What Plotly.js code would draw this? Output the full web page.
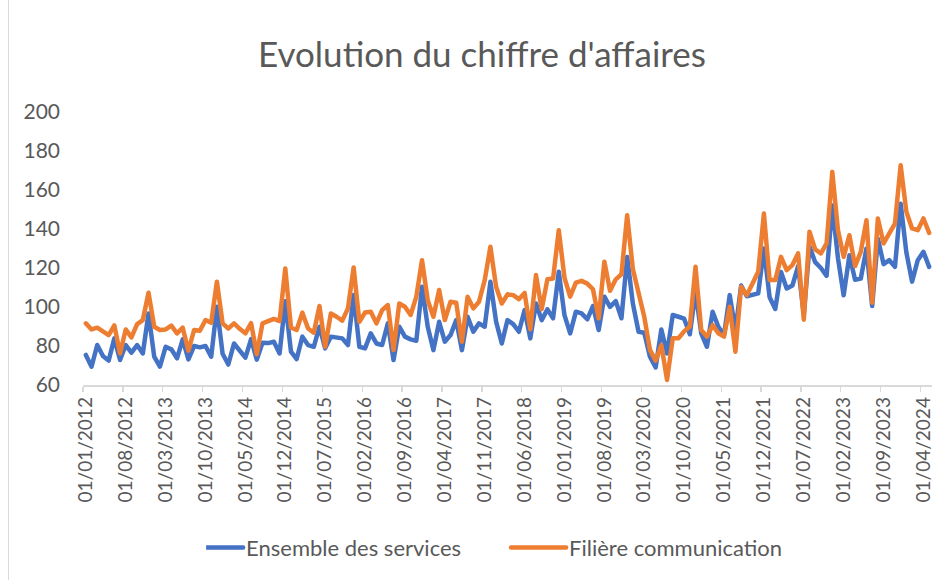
<!DOCTYPE html>
<html>
<head>
<meta charset="utf-8">
<script src="https://cdn.plot.ly/plotly-3.0.1.min.js"></script>
<style>
html, body { margin: 0; padding: 0; background: #ffffff; }
#chart { width: 947px; height: 580px; }
.js-line { stroke-linejoin: round; stroke-linecap: round; }
</style>
</head>
<body>
<div id="chart"></div>
<script>
// Monthly categories: 01/01/2012 ... 01/05/2024
const months = [];
for (let y = 2012; y <= 2024; y++) {
  for (let m = 1; m <= 12; m++) {
    if (y === 2024 && m > 5) break;
    months.push('01/' + String(m).padStart(2, '0') + '/' + y);
  }
}

const seriesNames = ['Ensemble des services', 'Filière communication'];

const ensembleServices = [
  75.4, 69.4, 80.5, 74.9, 72.5, 83.9, 72.8, 80.5, 76.6, 80.5, 76.2, 96.7,
  74.5, 69.4, 79.6, 78.3, 73.7, 83.4, 73.1, 80.0, 79.3, 80.0, 74.5, 100.1,
  76.0, 70.5, 81.3, 77.9, 74.0, 83.5, 73.0, 81.7, 81.5, 82.2, 76.2, 103.0,
  77.1, 73.3, 84.8, 80.5, 79.6, 89.9, 78.8, 84.8, 84.4, 83.9, 80.5, 106.1,
  79.6, 78.8, 86.5, 81.3, 80.5, 91.6, 72.8, 89.9, 84.8, 83.4, 82.7, 110.4,
  89.9, 77.9, 92.4, 82.2, 85.6, 93.3, 77.9, 95.0, 87.3, 91.6, 89.9, 112.9,
  92.5, 81.3, 93.3, 91.2, 87.3, 98.4, 83.9, 101.8, 93.3, 98.8, 94.2, 118.1,
  95.8, 86.5, 97.6, 96.7, 93.7, 100.5, 88.2, 105.3, 100.1, 103.0, 94.2, 125.7,
  101.8, 87.3, 86.8, 74.5, 69.0, 88.5, 76.2, 95.9, 95.0, 94.0, 86.0, 108.0,
  86.5, 79.6, 97.6, 89.9, 85.6, 106.1, 88.0, 111.0, 105.5, 106.0, 107.0, 130.0,
  105.0, 99.0, 118.0, 109.5, 111.0, 121.0, 96.0, 131.0, 123.0, 120.0, 116.0, 152.0,
  125.0, 106.0, 126.5, 114.0, 114.6, 130.0, 100.5, 135.0, 122.0, 124.0, 120.6, 153.0,
  128.0, 113.0, 124.0, 128.3, 120.6
];

const filiereCommunication = [
  91.6, 88.5, 89.4, 87.3, 85.6, 90.6, 76.2, 88.5, 84.4, 91.2, 93.3, 107.3,
  89.9, 88.2, 88.5, 90.4, 86.5, 89.4, 77.6, 88.2, 87.8, 93.3, 91.9, 113.0,
  91.6, 89.0, 91.6, 88.8, 86.5, 91.7, 75.8, 91.6, 93.0, 93.9, 92.8, 119.8,
  89.5, 88.2, 97.1, 89.0, 86.8, 100.5, 79.6, 96.7, 95.0, 93.0, 99.3, 120.3,
  92.4, 97.2, 97.6, 91.6, 98.4, 101.0, 77.9, 101.8, 100.1, 95.9, 105.3, 124.0,
  103.5, 95.0, 108.7, 93.3, 102.7, 102.2, 82.2, 105.3, 99.3, 102.7, 113.8, 130.9,
  110.4, 101.8, 106.5, 106.1, 104.0, 107.2, 88.6, 116.4, 98.9, 114.2, 114.6, 139.4,
  115.0, 105.3, 112.5, 113.4, 112.0, 109.1, 94.2, 123.2, 108.3, 114.2, 116.8, 147.1,
  119.5, 108.0, 95.0, 78.0, 72.5, 80.5, 62.6, 84.0, 84.0, 87.5, 90.0, 120.6,
  88.2, 84.8, 90.7, 86.5, 84.8, 100.1, 77.1, 110.4, 106.1, 112.1, 118.1, 147.9,
  113.8, 113.8, 125.7, 118.9, 121.5, 127.5, 93.5, 138.6, 129.5, 127.5, 132.6, 169.3,
  139.4, 125.7, 136.8, 121.0, 128.3, 144.5, 102.2, 145.4, 132.6, 137.7, 142.8, 172.7,
  148.8, 140.3, 139.4, 145.4, 138.0
];

const traces = [
  {
    type: 'scatter', mode: 'lines', name: seriesNames[0],
    x: months, y: ensembleServices,
    line: { color: '#4472C4', width: 4.5 },
    hoverinfo: 'x+y+name'
  },
  {
    type: 'scatter', mode: 'lines', name: seriesNames[1],
    x: months, y: filiereCommunication,
    line: { color: '#ED7D31', width: 4.5 },
    hoverinfo: 'x+y+name'
  }
];

const layout = {
  width: 947, height: 580,
  margin: { l: 83, r: 15, t: 112, b: 195, pad: 0 },
  paper_bgcolor: '#ffffff', plot_bgcolor: '#ffffff',
  font: { family: 'Lato, "Open Sans", sans-serif', color: '#595959' },
  title: {
    text: "Evolution du chiffre d'affaires",
    font: { size: 35, color: '#595959', family: 'Lato, "Open Sans", sans-serif' },
    x: 0.509, xref: 'container', xanchor: 'center',
    y: 0.905, yref: 'container', yanchor: 'middle'
  },
  xaxis: {
    type: 'category',
    range: [-0.5, 148.5],
    tickmode: 'linear', tick0: 0, dtick: 7,
    tickson: 'boundaries',
    ticks: 'outside', ticklen: 5, tickwidth: 1.3, tickcolor: '#d9d9d9',
    showline: true, linecolor: '#d9d9d9', linewidth: 1.5,
    showgrid: false, zeroline: false,
    tickangle: -90,
    ticklabelstandoff: 3,
    tickfont: { size: 19, color: '#595959' },
    fixedrange: true
  },
  yaxis: {
    range: [60, 200], tick0: 0, dtick: 20,
    showgrid: false, zeroline: false, showline: false, ticks: '',
    tickfont: { size: 21, color: '#595959' },
    ticklabelstandoff: 22,
    fixedrange: true
  },
  showlegend: true,
  legend: {
    orientation: 'h',
    x: 0.145, xanchor: 'left',
    y: -0.596, yanchor: 'middle',
    entrywidth: 278, entrywidthmode: 'pixels',
    font: { size: 22, color: '#595959' },
    bgcolor: 'rgba(0,0,0,0)'
  },
  shapes: [
    {
      type: 'line', xref: 'paper', yref: 'paper',
      x0: -0.0878, x1: -0.0878, y0: -0.714, y1: 1.41,
      line: { color: '#d9d9d9', width: 1 }
    }
  ]
};

function lengthenLegendLines() {
  document.querySelectorAll('#chart .legend .traces .legendlines path.js-line')
    .forEach(function (p) { p.setAttribute('d', 'M-18,0h55'); });
}

Plotly.newPlot('chart', traces, layout, { displayModeBar: false, staticPlot: true })
  .then(function (gd) {
    lengthenLegendLines();
    gd.on('plotly_afterplot', lengthenLegendLines);
  });
</script>
</body>
</html>
